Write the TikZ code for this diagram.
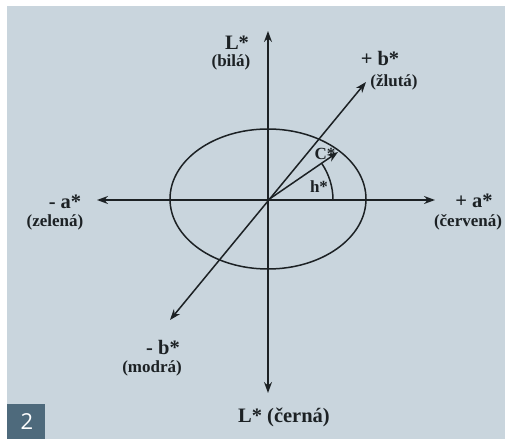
\documentclass[tikz,border=0pt]{standalone}
\usepackage{fontspec}
\setmainfont{Liberation Serif}
\newfontfamily\badgefont{Open Sans}
\usetikzlibrary{arrows.meta}
\definecolor{panelbg}{HTML}{C9D5DD}
\definecolor{badgebg}{HTML}{4E6A7C}
\definecolor{ink}{HTML}{1C2124}

\begin{document}
\begin{tikzpicture}[x=1pt,y=1pt,line width=1.5pt,draw=ink,text=ink,>={Stealth[length=11pt,width=8pt]},
  axlab/.style={font=\bfseries\fontsize{20.5}{23}\selectfont,inner sep=0pt},
  sublab/.style={font=\bfseries\fontsize{17}{19}\selectfont,inner sep=0pt},
  anglab/.style={font=\bfseries\fontsize{17}{19}\selectfont,inner sep=0pt}]
  \fill[white] (-268,-239) rectangle (241,200);
  \fill[panelbg] (-261,-239) rectangle (237,194);
  \useasboundingbox (-268,-239) rectangle (241,200);
  \coordinate (O) at (0,0);
  \coordinate (Lw) at (0,169);
  \coordinate (Lb) at (0,-193);
  \coordinate (ap) at (167,0);
  \coordinate (am) at (-171,0);
  \coordinate (bp) at (98,118);
  \coordinate (bm) at (-98,-120);
  \coordinate (Ct) at (70,48);
  \draw (0,1) ellipse[x radius=98,y radius=70];
  \draw[<->] (Lb) -- (Lw);
  \draw[<->] (am) -- (ap);
  \draw[<->] (bm) -- (bp);
  \draw[->] (O) -- (Ct);
  \draw (O) ++(65,0) arc[start angle=0,end angle=34.4,radius=65];
  \node[axlab] (Lwt) at (-31,157) {L*};
  \node[sublab] (Lws) at (-37,138) {(bilá)};
  \node[axlab] (bpt) at (112,142) {+ b*};
  \node[sublab] (bps) at (126,118) {(žlutá)};
  \node[anglab] (Cl) at (57,46) {C*};
  \node[anglab] (hl) at (51,13) {h*};
  \node[axlab] (amt) at (-203,-2) {- a*};
  \node[sublab] (ams) at (-213,-22) {(zelená)};
  \node[axlab] (apt) at (206,-1) {+ a*};
  \node[sublab] (aps) at (200,-22) {(červená)};
  \node[axlab] (bmt) at (-105,-147) {- b*};
  \node[sublab] (bms) at (-116,-168) {(modrá)};
  \node[axlab] (Lbt) at (16,-217) {L* (černá)};
  \fill[badgebg] (-261,-239) rectangle (-223,-204);
  \node[text=white,font=\badgefont\fontsize{22}{24}\selectfont] (num) at (-241,-222) {2};
\end{tikzpicture}
\end{document}
